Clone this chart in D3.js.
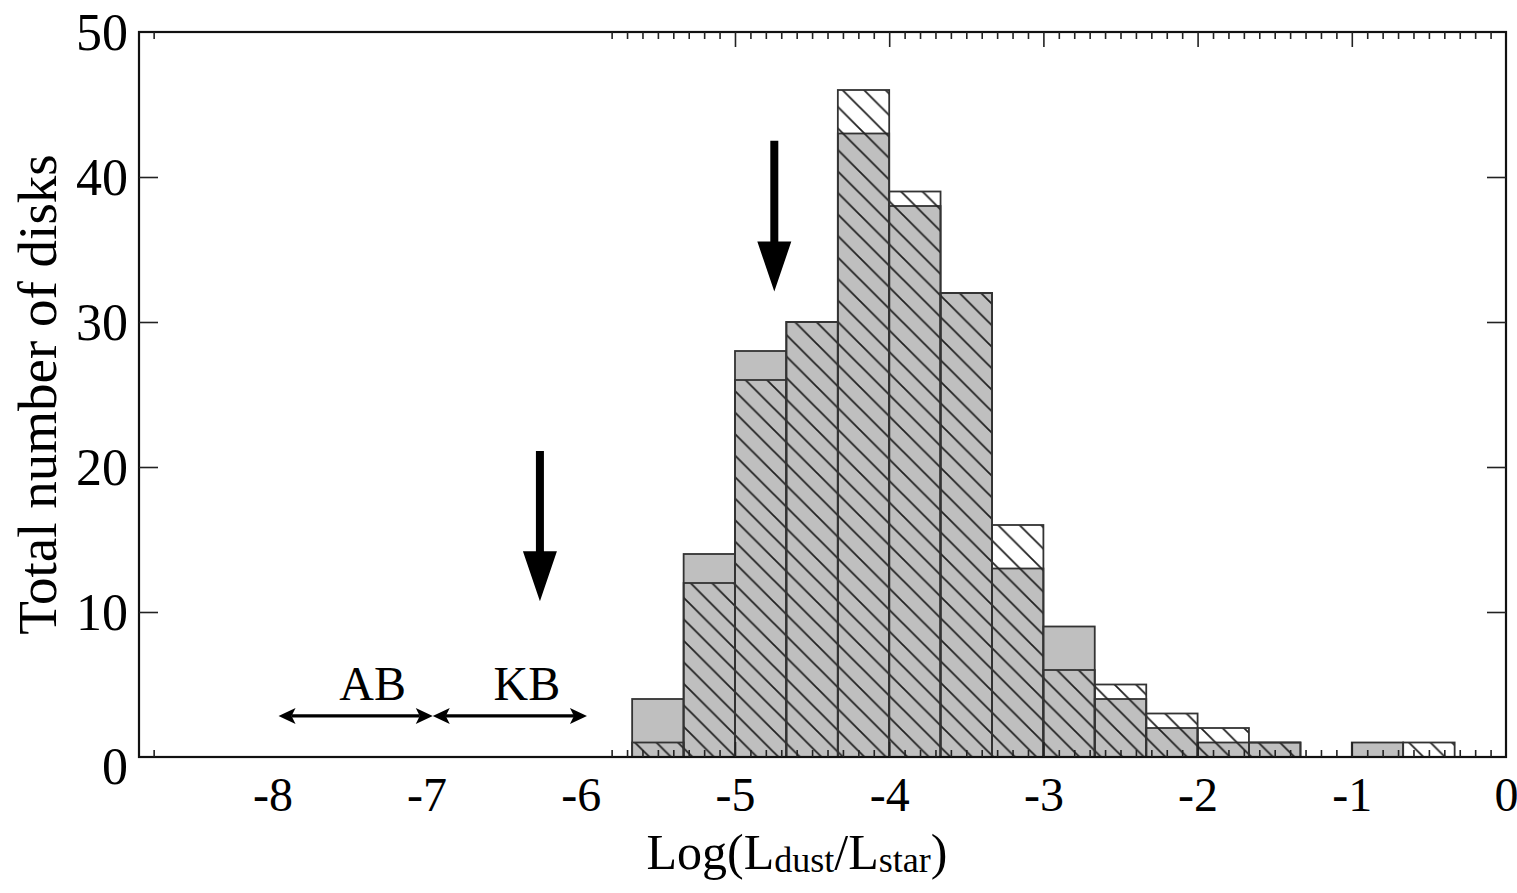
<!DOCTYPE html>
<html>
<head>
<meta charset="utf-8">
<script src="https://cdn.jsdelivr.net/npm/d3@7"></script>
<style>
  body { margin: 0; background: #fff; }
  svg text { font-family: "Liberation Serif", "DejaVu Serif", serif; fill: #000; }
</style>
</head>
<body>
<svg id="chart" width="1517" height="893"></svg>
<script>
// histogram bins, 1/3 dex wide (left edge of each bin)
const binLo = [-5.667, -5.333, -5.0, -4.667, -4.333, -4.0, -3.667, -3.333,
               -3.0, -2.667, -2.333, -2.0, -1.667, -1.333, -1.0, -0.667];
const binHi = [-5.333, -5.0, -4.667, -4.333, -4.0, -3.667, -3.333, -3.0,
               -2.667, -2.333, -2.0, -1.667, -1.333, -1.0, -0.667, -0.333];
const grayCounts  = [4, 14, 28, 30, 43, 38, 32, 13, 9, 4, 2, 1, 1, 0, 1, 0];
const hatchCounts = [1, 12, 26, 30, 46, 39, 32, 16, 6, 5, 3, 2, 1, 0, 0, 1];

// axes
const xTickLabels = [-8, -7, -6, -5, -4, -3, -2, -1, 0];
const xMajorTicks = [-5, -4, -3, -2, -1];
const yTickLabels = [0, 10, 20, 30, 40, 50];

// annotations
const arrowX   = [-4.745, -6.265];
const arrowTop = [42.5, 21.1];
const arrowTip = [32.1, 10.75];
const beltNames = ["AB", "KB"];
const beltFrom  = [-7.96, -6.96];
const beltTo    = [-6.96, -5.96];
const beltLabelX = [-7.35, -6.35];

const mLeft = 139, mRight = 1506, mTop = 32, mBottom = 757;

const svg = d3.select("#chart");
const x = d3.scaleLinear().domain([-8.865, 0]).range([mLeft, mRight]);
const y = d3.scaleLinear().domain([0, 50]).range([mBottom, mTop]);

// hatch pattern (backslash lines)
const s = 21.5;
svg.append("defs").append("pattern")
    .attr("id", "hatch")
    .attr("patternUnits", "userSpaceOnUse")
    .attr("width", s).attr("height", s)
  .append("path")
    .attr("d", `M0,0 L${s},${s} M-2,${s - 2} L2,${s + 2} M${s - 2},-2 L${s + 2},2`)
    .attr("stroke", "#222")
    .attr("stroke-width", 1.8);

const bins = binLo.map((lo, i) => ({lo: lo, hi: binHi[i], g: grayCounts[i], h: hatchCounts[i]}));

// gray histogram
svg.append("g").selectAll("rect")
    .data(bins.filter(d => d.g > 0))
    .join("rect")
    .attr("x", d => x(d.lo))
    .attr("width", d => x(d.hi) - x(d.lo))
    .attr("y", d => y(d.g))
    .attr("height", d => y(0) - y(d.g))
    .attr("fill", "#bfbfbf")
    .attr("stroke", "#333")
    .attr("stroke-width", 1.8);

// hatched histogram on top
svg.append("g").selectAll("rect")
    .data(bins.filter(d => d.h > 0))
    .join("rect")
    .attr("x", d => x(d.lo))
    .attr("width", d => x(d.hi) - x(d.lo))
    .attr("y", d => y(d.h))
    .attr("height", d => y(0) - y(d.h))
    .attr("fill", "url(#hatch)")
    .attr("stroke", "#333")
    .attr("stroke-width", 1.8);

// frame
svg.append("rect")
    .attr("x", mLeft).attr("y", mTop)
    .attr("width", mRight - mLeft).attr("height", mBottom - mTop)
    .attr("fill", "none")
    .attr("stroke", "#111")
    .attr("stroke-width", 2.2);

// minor ticks on top and bottom (only on the right part of the frame)
const minorTicks = d3.range(-58, 0).map(v => v / 10).filter(v => !xMajorTicks.some(m => Math.abs(m - v) < 1e-6));
minorTicks.push(-8.77);

function tickStyle(g) {
    g.select(".domain").remove();
    g.selectAll("line").attr("stroke", "#222").attr("stroke-width", 1.6);
    g.selectAll("text").remove();
}

svg.append("g").attr("transform", `translate(0,${mTop})`)
    .call(d3.axisBottom(x).tickValues(minorTicks).tickSize(7)).call(tickStyle);
svg.append("g").attr("transform", `translate(0,${mTop})`)
    .call(d3.axisBottom(x).tickValues(xMajorTicks).tickSize(15)).call(tickStyle);
svg.append("g").attr("transform", `translate(0,${mBottom})`)
    .call(d3.axisTop(x).tickValues(minorTicks).tickSize(7)).call(tickStyle);
svg.append("g").attr("transform", `translate(0,${mBottom})`)
    .call(d3.axisTop(x).tickValues(xMajorTicks).tickSize(15)).call(tickStyle);

// y ticks, inward on both sides
const yInner = yTickLabels.filter(v => v > 0 && v < 50);
svg.append("g").attr("transform", `translate(${mLeft},0)`)
    .call(d3.axisRight(y).tickValues(yInner).tickSize(19)).call(tickStyle);
svg.append("g").attr("transform", `translate(${mRight},0)`)
    .call(d3.axisLeft(y).tickValues(yInner).tickSize(19)).call(tickStyle);

// tick labels (plain hyphen for minus, like the original)
const xLab = svg.append("g").attr("transform", `translate(0,${mBottom})`)
    .call(d3.axisBottom(x).tickValues(xTickLabels).tickSize(0).tickPadding(20).tickFormat(d => String(d)));
xLab.select(".domain").remove();
xLab.selectAll("text").attr("font-size", 48).attr("font-family", "Liberation Serif").attr("fill", "#000");

const yLab = svg.append("g").attr("transform", `translate(${mLeft},0)`)
    .call(d3.axisLeft(y).tickValues(yTickLabels).tickSize(0).tickPadding(11).tickFormat(d => String(d)));
yLab.select(".domain").remove();
yLab.selectAll("text").attr("font-size", 52).attr("font-family", "Liberation Serif").attr("fill", "#000")
    .attr("dy", d => d === 0 ? "0.5em" : "0.34em");

// axis titles
const xt = svg.append("text")
    .attr("x", 797).attr("y", 869)
    .attr("text-anchor", "middle")
    .attr("font-size", 50);
xt.append("tspan").text("Log(L");
xt.append("tspan").attr("font-size", 36).attr("dy", 3).text("dust");
xt.append("tspan").attr("dy", -3).text("/L");
xt.append("tspan").attr("font-size", 36).attr("dy", 3).text("star");
xt.append("tspan").attr("dy", -3).text(")");

svg.append("text")
    .attr("transform", `translate(56,${(mTop + mBottom) / 2}) rotate(-90)`)
    .attr("text-anchor", "middle")
    .attr("font-size", 55)
    .text("Total number of disks");

// big down arrows
const headLen = 50, headHalf = 17, shaftHalf = 4;
svg.append("g").selectAll("path")
    .data(arrowX.map((v, i) => ({x: v, t: arrowTop[i], p: arrowTip[i]})))
    .join("path")
    .attr("d", d => {
        const cx = x(d.x), y0 = y(d.t), y1 = y(d.p), yb = y1 - headLen;
        return `M${cx - shaftHalf},${y0} L${cx + shaftHalf},${y0} L${cx + shaftHalf},${yb}` +
               ` L${cx + headHalf},${yb} L${cx},${y1} L${cx - headHalf},${yb} L${cx - shaftHalf},${yb} Z`;
    })
    .attr("fill", "#000");

// AB / KB double arrows
const beltY = 2.83;
const bh = 17, bw = 8;
const belts = svg.append("g");
beltNames.forEach((name, i) => {
    const x0 = x(beltFrom[i]), x1 = x(beltTo[i]), yy = y(beltY);
    belts.append("line")
        .attr("x1", x0 + bh - 4).attr("x2", x1 - bh + 4)
        .attr("y1", yy).attr("y2", yy)
        .attr("stroke", "#000").attr("stroke-width", 3.2);
    belts.append("path")
        .attr("d", `M${x0},${yy} L${x0 + bh},${yy - bw} L${x0 + bh - 4},${yy} L${x0 + bh},${yy + bw} Z`)
        .attr("fill", "#000");
    belts.append("path")
        .attr("d", `M${x1},${yy} L${x1 - bh},${yy - bw} L${x1 - bh + 4},${yy} L${x1 - bh},${yy + bw} Z`)
        .attr("fill", "#000");
    belts.append("text")
        .attr("x", x(beltLabelX[i])).attr("y", y(3.93))
        .attr("text-anchor", "middle")
        .attr("font-size", 48)
        .text(name);
});
</script>
</body>
</html>
